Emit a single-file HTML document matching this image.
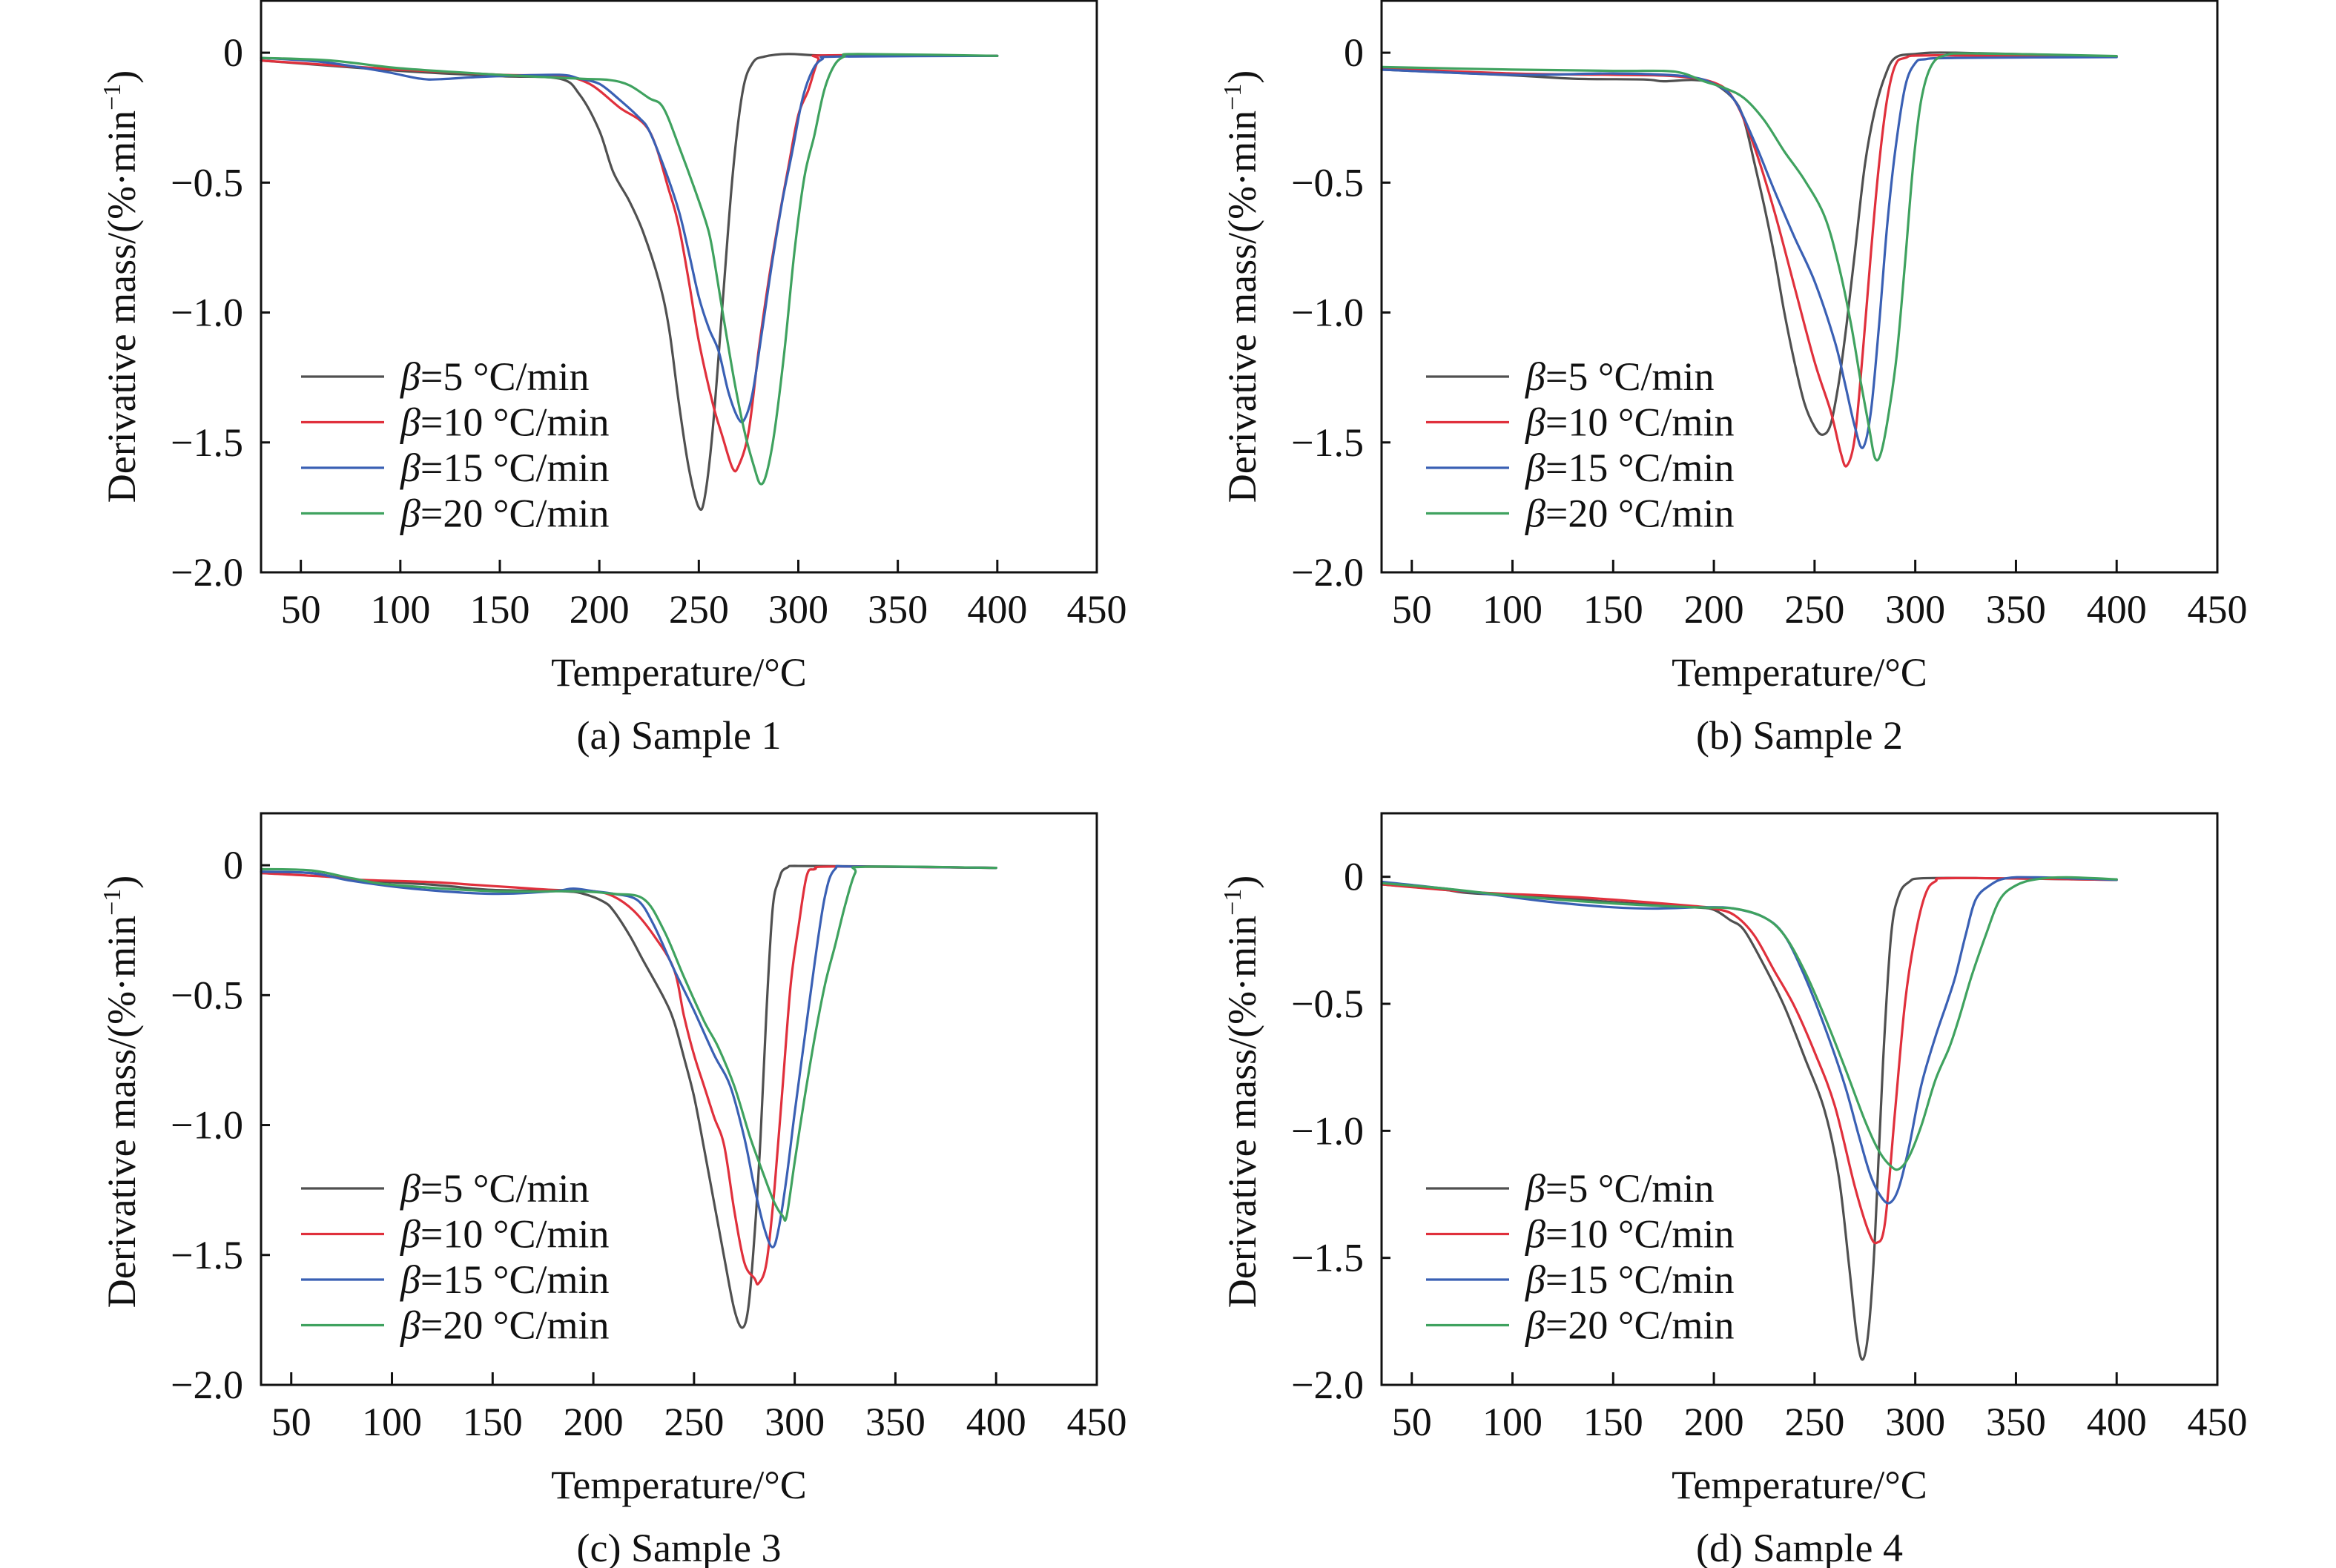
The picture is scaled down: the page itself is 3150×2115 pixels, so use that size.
<!DOCTYPE html>
<html><head><meta charset="utf-8"><style>
html,body{margin:0;padding:0;background:#fff;}
svg{display:block;}
text{font-family:"Liberation Serif",serif;fill:#111;}
</style></head><body>
<svg id="fig" xmlns="http://www.w3.org/2000/svg" width="3150" height="2115" viewBox="0 0 3150 2115"></svg>
<script>
// Panel (a) Sample 1
const aT5=[30,100,150,180,190,200,207,215,222,230,235,240,245,250,253,257,262,267,272,277,283,295,320,400];
const aV5=[-0.03,-0.07,-0.09,-0.1,-0.16,-0.3,-0.46,-0.57,-0.69,-0.88,-1.06,-1.35,-1.6,-1.75,-1.71,-1.45,-0.96,-0.47,-0.15,-0.04,-0.015,-0.005,-0.012,-0.012];
const aT10=[30,100,150,180,195,210,225,235,240,245,250,257,262,267,270,275,280,285,290,295,300,305,310,315,400];
const aV10=[-0.03,-0.065,-0.085,-0.09,-0.12,-0.21,-0.3,-0.53,-0.67,-0.88,-1.11,-1.35,-1.48,-1.6,-1.59,-1.46,-1.15,-0.88,-0.65,-0.44,-0.24,-0.145,-0.03,-0.01,-0.012];
const aT15=[30,60,90,110,120,135,150,180,190,200,210,220,225,233,240,245,250,255,260,265,270,273,277,282,287,292,297,302,307,312,320,400];
const aV15=[-0.02,-0.035,-0.07,-0.1,-0.102,-0.095,-0.09,-0.085,-0.1,-0.12,-0.18,-0.25,-0.3,-0.45,-0.61,-0.77,-0.94,-1.06,-1.15,-1.31,-1.41,-1.41,-1.31,-1.06,-0.8,-0.57,-0.38,-0.18,-0.07,-0.025,-0.015,-0.012];
const aT20=[30,65,100,150,190,205,215,225,232,240,250,255,258,262,268,273,278,281,284,288,293,298,303,308,313,318,323,330,400];
const aV20=[-0.02,-0.03,-0.06,-0.085,-0.1,-0.105,-0.125,-0.175,-0.21,-0.36,-0.57,-0.69,-0.81,-1.0,-1.27,-1.46,-1.6,-1.66,-1.62,-1.46,-1.15,-0.77,-0.48,-0.32,-0.145,-0.05,-0.015,-0.005,-0.012];
// Panel (b) Sample 2
const bT5=[35,100,130,165,175,190,200,210,215,220,225,230,235,240,245,250,254,258,262,266,270,275,280,285,290,300,320,400];
const bV5=[-0.065,-0.087,-0.1,-0.103,-0.11,-0.105,-0.12,-0.18,-0.26,-0.42,-0.59,-0.78,-1.0,-1.19,-1.35,-1.44,-1.47,-1.43,-1.27,-1.04,-0.77,-0.43,-0.22,-0.09,-0.02,-0.005,0,-0.015];
const bT10=[35,100,150,180,200,210,220,230,240,250,258,263,266,270,274,278,282,286,290,295,310,400];
const bV10=[-0.06,-0.08,-0.085,-0.09,-0.115,-0.18,-0.36,-0.61,-0.9,-1.19,-1.38,-1.54,-1.59,-1.48,-1.15,-0.77,-0.43,-0.18,-0.05,-0.02,-0.01,-0.015];
const bT15=[35,100,150,185,200,210,220,230,240,250,260,265,270,274,278,282,286,290,295,300,305,320,400];
const bV15=[-0.065,-0.085,-0.08,-0.09,-0.12,-0.18,-0.34,-0.53,-0.71,-0.88,-1.11,-1.27,-1.44,-1.52,-1.38,-1.05,-0.67,-0.38,-0.13,-0.04,-0.025,-0.02,-0.017];
const bT20=[35,100,150,175,185,195,205,215,225,235,245,255,262,268,273,277,280,283,287,291,295,299,303,308,315,330,400];
const bV20=[-0.055,-0.065,-0.07,-0.07,-0.08,-0.11,-0.135,-0.175,-0.26,-0.38,-0.49,-0.63,-0.82,-1.04,-1.27,-1.44,-1.56,-1.54,-1.38,-1.15,-0.8,-0.43,-0.18,-0.05,-0.01,-0.003,-0.013];
// Panel (c) Sample 3
const cT5=[35,60,80,120,150,185,195,205,210,218,225,235,240,245,250,255,260,265,270,274,277,280,283,286,289,292,296,310,400];
const cV5=[-0.025,-0.03,-0.055,-0.075,-0.095,-0.1,-0.11,-0.14,-0.175,-0.27,-0.37,-0.51,-0.6,-0.74,-0.89,-1.09,-1.3,-1.51,-1.71,-1.78,-1.7,-1.43,-1.05,-0.56,-0.17,-0.06,-0.01,-0.003,-0.01];
const cT10=[35,70,80,120,140,160,180,200,210,220,230,240,245,250,255,260,265,270,275,280,282,286,290,294,298,302,306,310,320,400];
const cV10=[-0.03,-0.045,-0.055,-0.065,-0.075,-0.085,-0.095,-0.1,-0.12,-0.175,-0.27,-0.4,-0.58,-0.73,-0.85,-0.97,-1.08,-1.33,-1.53,-1.59,-1.61,-1.53,-1.24,-0.85,-0.46,-0.23,-0.04,-0.015,-0.005,-0.01];
const cT15=[35,60,80,110,150,180,190,200,210,222,230,240,250,260,268,275,280,285,289,292,296,300,305,310,315,320,330,400];
const cV15=[-0.025,-0.03,-0.06,-0.09,-0.11,-0.1,-0.09,-0.1,-0.11,-0.135,-0.23,-0.4,-0.56,-0.73,-0.85,-1.05,-1.24,-1.4,-1.47,-1.4,-1.2,-0.95,-0.66,-0.37,-0.12,-0.015,-0.005,-0.01];
const cT20=[35,60,80,100,150,190,210,225,235,245,255,262,270,278,285,290,294,296,300,305,310,315,320,325,330,335,400];
const cV20=[-0.015,-0.02,-0.05,-0.075,-0.1,-0.1,-0.11,-0.13,-0.25,-0.43,-0.6,-0.7,-0.85,-1.05,-1.2,-1.3,-1.35,-1.35,-1.14,-0.89,-0.66,-0.46,-0.31,-0.155,-0.03,-0.006,-0.01];
// Panel (d) Sample 4
const dT5=[35,65,80,120,150,190,200,208,215,225,235,245,255,262,267,271,274,277,280,284,288,292,297,303,330,400];
const dV5=[-0.03,-0.05,-0.065,-0.08,-0.1,-0.12,-0.13,-0.17,-0.21,-0.35,-0.51,-0.71,-0.92,-1.18,-1.52,-1.81,-1.9,-1.77,-1.42,-0.73,-0.23,-0.07,-0.02,-0.006,-0.005,-0.012];
const dT10=[35,80,120,150,190,200,210,220,230,240,250,260,270,277,281,285,290,295,300,305,310,320,400];
const dV10=[-0.03,-0.06,-0.075,-0.09,-0.115,-0.125,-0.15,-0.23,-0.37,-0.51,-0.69,-0.9,-1.22,-1.4,-1.44,-1.36,-0.92,-0.49,-0.23,-0.07,-0.018,-0.005,-0.012];
const dT15=[35,65,90,120,150,170,195,210,225,235,245,255,265,272,278,284,288,292,297,303,310,316,320,325,330,337,345,360,400];
const dV15=[-0.02,-0.045,-0.07,-0.1,-0.12,-0.125,-0.12,-0.125,-0.16,-0.23,-0.39,-0.59,-0.82,-1.02,-1.18,-1.27,-1.28,-1.22,-1.06,-0.82,-0.63,-0.49,-0.39,-0.23,-0.09,-0.034,-0.006,-0.002,-0.012];
const dT20=[35,65,100,150,190,210,225,235,245,255,265,275,282,288,292,297,303,310,317,322,328,335,342,350,360,375,400];
const dV20=[-0.025,-0.045,-0.075,-0.105,-0.12,-0.125,-0.16,-0.23,-0.37,-0.55,-0.75,-0.96,-1.08,-1.14,-1.15,-1.1,-0.98,-0.8,-0.67,-0.55,-0.39,-0.23,-0.09,-0.034,-0.01,-0.002,-0.01];

const xTicks=[50,100,150,200,250,300,350,400,450];
const yTicks=[0,-0.5,-1.0,-1.5,-2.0];
const yTickLabels=["0","\u22120.5","\u22121.0","\u22121.5","\u22122.0"];
const legendLabels=["=5 \u00B0C/min","=10 \u00B0C/min","=15 \u00B0C/min","=20 \u00B0C/min"];
const captions=["(a) Sample 1","(b) Sample 2","(c) Sample 3","(d) Sample 4"];
const colors=["#505050","#e0303c","#3a60b4","#3fa25f"];

const NS="http://www.w3.org/2000/svg";
const svg=document.getElementById('fig');
function mk(tag,attrs,parent){const e=document.createElementNS(NS,tag);for(const k in attrs)e.setAttribute(k,attrs[k]);parent.appendChild(e);return e;}
function smooth(pts){
  let d='M'+pts[0][0].toFixed(1)+' '+pts[0][1].toFixed(1);
  for(let i=0;i<pts.length-1;i++){
    const p0=pts[Math.max(0,i-1)],p1=pts[i],p2=pts[i+1],p3=pts[Math.min(pts.length-1,i+2)];
    const c1x=p1[0]+(p2[0]-p0[0])/6,c1y=p1[1]+(p2[1]-p0[1])/6;
    const c2x=p2[0]-(p3[0]-p1[0])/6,c2y=p2[1]-(p3[1]-p1[1])/6;
    d+='C'+c1x.toFixed(1)+' '+c1y.toFixed(1)+' '+c2x.toFixed(1)+' '+c2y.toFixed(1)+' '+p2[0].toFixed(1)+' '+p2[1].toFixed(1);
  }
  return d;
}

const panels=[
 {key:'a',L:352,R:1479,T:1,B:772,x0:30,y1:0.2,series:[[aT5,aV5],[aT10,aV10],[aT15,aV15],[aT20,aV20]],legX:406,legY:508},
 {key:'b',L:1863,R:2990,T:1,B:772,x0:35,y1:0.2,series:[[bT5,bV5],[bT10,bV10],[bT15,bV15],[bT20,bV20]],legX:1923,legY:508},
 {key:'c',L:352,R:1479,T:1097,B:1868,x0:35,y1:0.2,series:[[cT5,cV5],[cT10,cV10],[cT15,cV15],[cT20,cV20]],legX:406,legY:1603},
 {key:'d',L:1863,R:2990,T:1097,B:1868,x0:35,y1:0.25,series:[[dT5,dV5],[dT10,dV10],[dT15,dV15],[dT20,dV20]],legX:1923,legY:1603}
];

panels.forEach((p,pi)=>{
  const g=mk('g',{},svg);
  
  
  const xs=v=>p.L+(v-p.x0)/(450-p.x0)*(p.R-p.L);
  const ys=v=>p.T+(p.y1-v)/(p.y1+2)*(p.B-p.T);
  p.series.forEach((s,si)=>{
    const pts=s[0].map((t,i)=>[xs(t),ys(s[1][i])]);
    const path=mk('path',{d:smooth(pts),fill:'none',stroke:colors[si],'stroke-width':3.2,'stroke-linejoin':'round','stroke-linecap':'round'},g);
    
    
  });
  const fr=mk('rect',{x:p.L,y:p.T,width:p.R-p.L,height:p.B-p.T,fill:'none',stroke:'#111','stroke-width':3},g);
  
  
  xTicks.forEach(t=>{
    const x=xs(t);
    if(t<450){const tk=mk('line',{x1:x,x2:x,y1:p.B,y2:p.B-17,stroke:'#111','stroke-width':3},g);
      
      }
    const tl=mk('text',{x:x,y:p.B+68,'font-size':54,'text-anchor':'middle'},g);
    tl.textContent=String(t);
    
    
  });
  yTicks.forEach((t,i)=>{
    const y=ys(t);
    const tk=mk('line',{x1:p.L,x2:p.L+12,y1:y,y2:y,stroke:'#111','stroke-width':3},g);
    
    
    const tl=mk('text',{x:p.L-24,y:y+18,'font-size':54,'text-anchor':'end'},g);
    tl.textContent=yTickLabels[i];
    
    
  });
  const cx=(p.L+p.R)/2;
  const xt=mk('text',{x:cx,y:p.B+153,'font-size':54,'text-anchor':'middle'},g);
  xt.textContent='Temperature/\u00B0C';
  
  
  const cap=mk('text',{x:cx,y:p.B+238,'font-size':54,'text-anchor':'middle'},g);
  cap.textContent=captions[pi];
  
  
  const ycx=p.L-188, ycy=(p.T+p.B)/2+(pi>1?-10:0);
  const yt=mk('text',{x:ycx,y:ycy,'font-size':54,'text-anchor':'middle',transform:'rotate(-90 '+ycx+' '+ycy+')',dy:18},g);
  yt.innerHTML='Derivative mass/(%\u00B7min<tspan font-size="34" dy="-20">\u22121</tspan><tspan dy="20">)</tspan>';
  
  
  legendLabels.forEach((lab,li)=>{
    const y=p.legY+li*61.5;
    const ll=mk('line',{x1:p.legX,x2:p.legX+112,y1:y,y2:y,stroke:colors[li],'stroke-width':3.2},g);
    
    
    const lt=mk('text',{x:p.legX+134,y:y+18,'font-size':54},g);
    lt.innerHTML='<tspan font-style="italic">\u03B2</tspan>'+lab;
    
    
  });
});
</script>
</body></html>
